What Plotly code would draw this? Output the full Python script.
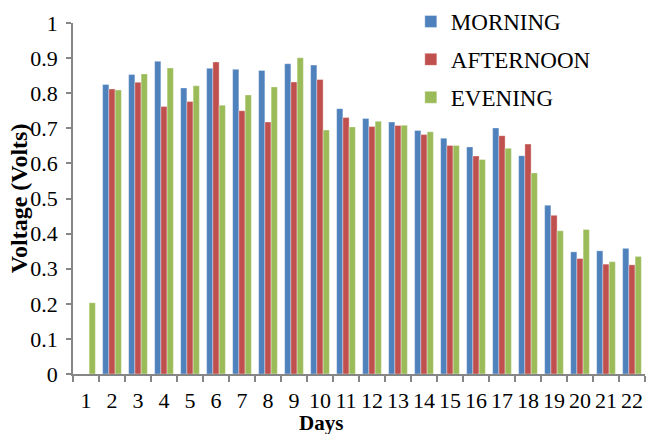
import plotly.graph_objects as go

days = [str(d) for d in range(1, 23)]
morning = [0, 0.825, 0.853, 0.891, 0.815, 0.871, 0.868, 0.865, 0.884, 0.880, 0.756,
           0.728, 0.718, 0.694, 0.672, 0.647, 0.701, 0.622, 0.481, 0.348, 0.351, 0.358]
afternoon = [0, 0.812, 0.831, 0.762, 0.776, 0.889, 0.750, 0.718, 0.832, 0.839, 0.731,
             0.705, 0.708, 0.682, 0.651, 0.621, 0.679, 0.655, 0.452, 0.329, 0.313, 0.311]
evening = [0.203, 0.809, 0.855, 0.872, 0.821, 0.766, 0.795, 0.818, 0.901, 0.695, 0.704,
           0.720, 0.709, 0.690, 0.651, 0.611, 0.643, 0.573, 0.408, 0.412, 0.320, 0.335]
y_ticks = [0, 0.1, 0.2, 0.3, 0.4, 0.5, 0.6, 0.7, 0.8, 0.9, 1]
y_tick_text = ["0", "0.1", "0.2", "0.3", "0.4", "0.5", "0.6", "0.7", "0.8", "0.9", "1"]

series = [("MORNING", morning, "#4F81BD"),
          ("AFTERNOON", afternoon, "#C0504D"),
          ("EVENING", evening, "#9BBB59")]

FONT = "Liberation Serif"
fig = go.Figure()
for name, vals, color in series:
    fig.add_trace(go.Bar(x=days, y=vals, name=name, legendgroup=name,
                         marker=dict(color=color, line=dict(color="rgba(255,255,255,0.6)", width=0.6))))

fig.update_layout(
    width=649, height=434,
    template="none",
    paper_bgcolor="white", plot_bgcolor="white",
    margin=dict(l=73, r=4, t=23, b=60, autoexpand=False),
    barmode="group", bargap=0.28, bargroupgap=0,
    font=dict(family=FONT, size=22, color="black"),
    showlegend=True,
    legend=dict(xref="container", yref="container", x=0.633, y=1.024,
                xanchor="left", yanchor="top",
                font=dict(family=FONT, size=23, color="black"),
                bgcolor="rgba(0,0,0,0)", tracegroupgap=5, traceorder="grouped"),
    xaxis=dict(type="category", showgrid=False, showline=True, linecolor="#868686",
               linewidth=1.5, ticks="outside", tickson="boundaries", ticklen=6,
               tickcolor="#868686", tickwidth=1.5, tickangle=0, automargin=False,
               ticklabelstandoff=6,
               tickfont=dict(family=FONT, size=22, color="black"),
               range=[-0.5, 21.5], zeroline=False),
    yaxis=dict(range=[0, 1], tickvals=y_ticks, ticktext=y_tick_text, showgrid=False,
               showline=True, linecolor="#868686", linewidth=1.5, ticks="outside",
               ticklen=5, tickcolor="#868686", tickwidth=1.5, automargin=False,
               ticklabelstandoff=4,
               tickfont=dict(family=FONT, size=22, color="black"),
               zeroline=False),
    annotations=[
        dict(text="<b>Voltage (Volts)</b>", textangle=-90,
             xref="paper", yref="paper", x=-0.095, y=0.5,
             xanchor="center", yanchor="middle", showarrow=False,
             font=dict(family=FONT, size=24, color="black")),
        dict(text="<b>Days</b>", xref="paper", yref="paper", x=0.433, y=-0.176,
             xanchor="center", yanchor="bottom", showarrow=False, borderpad=0,
             font=dict(family=FONT, size=21, color="black")),
    ],
)
fig.write_html("out.html", config={"displayModeBar": False},
               post_script="document.body.style.margin='0';")
